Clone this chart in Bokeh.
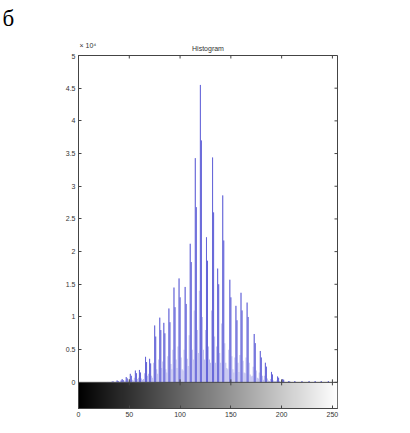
import numpy as np
from bokeh.plotting import figure
from bokeh.layouts import column
from bokeh.models import (FixedTicker, Label, Span, ColumnDataSource,
                          LinearColorMapper, Range1d)
from bokeh.palettes import Greys256
from bokeh.embed import file_html
from bokeh.resources import INLINE

# ---------------- data (counts in units of 10^4) ----------------
gray_levels = list(range(256))
counts_1e4 = [
    # 0-15
    0, 0, 0, 0, 0, 0, 0, 0, 0, 0, 0, 0, 0, 0, 0, 0,
    # 16-31
    0, 0, 0, 0, 0, 0, 0, 0, 0, 0, 0, 0.003, 0.004, 0.006, 0.004, 0.003,
    # 32-47
    0.004, 0.01, 0.015, 0.008, 0.006, 0.012, 0.03, 0.02, 0.01, 0.012, 0.03, 0.05, 0.035, 0.015, 0.03, 0.08,
    # 48-63
    0.06, 0.025, 0.05, 0.13, 0.1, 0.04, 0.03, 0.07, 0.18, 0.14, 0.05, 0.07, 0.19, 0.15, 0.06, 0.04,
    # 64-79
    0.05, 0.14, 0.39, 0.31, 0.1, 0.13, 0.36, 0.29, 0.1, 0.07, 0.3, 0.87, 0.7, 0.2, 0.13, 0.35,
    # 80-95
    0.99, 0.8, 0.22, 0.32, 0.91, 0.75, 0.2, 0.15, 0.4, 1.13, 0.92, 0.28, 0.2, 0.5, 1.45, 1.15,
    # 96-111
    0.35, 0.22, 0.55, 1.59, 1.3, 0.38, 0.2, 0.18, 0.5, 1.46, 1.2, 0.36, 0.25, 0.72, 2.12, 1.84,
    # 112-127
    0.5, 0.35, 1.1, 3.43, 2.68, 0.8, 0.45, 1.4, 4.55, 3.7, 1.0, 0.5, 0.35, 0.8, 2.22, 1.86,
    # 128-143
    0.55, 0.35, 0.3, 1.1, 3.44, 2.6, 0.7, 0.3, 0.55, 1.74, 1.5, 0.45, 0.3, 0.9, 2.86, 2.17,
    # 144-159
    0.6, 0.3, 0.22, 0.2, 0.5, 1.57, 1.3, 0.4, 0.2, 0.15, 0.38, 1.17, 0.95, 0.3, 0.16, 0.42,
    # 160-175
    1.37, 1.1, 0.33, 0.15, 0.14, 0.38, 1.22, 1.0, 0.3, 0.12, 0.09, 0.1, 0.24, 0.74, 0.6, 0.18,
    # 176-191
    0.07, 0.06, 0.15, 0.48, 0.38, 0.1, 0.04, 0.1, 0.3, 0.24, 0.06, 0.03, 0.02, 0.05, 0.16, 0.12,
    # 192-207
    0.03, 0.015, 0.015, 0.03, 0.09, 0.07, 0.02, 0.01, 0.02, 0.05, 0.04, 0.01, 0.005, 0.005, 0.008, 0.02,
    # 208-223
    0.012, 0, 0, 0, 0, 0.02, 0, 0, 0, 0, 0, 0, 0.02, 0, 0, 0,
    # 224-239
    0, 0, 0, 0.02, 0, 0, 0, 0, 0, 0.02, 0, 0, 0, 0, 0, 0.02,
    # 240-255
    0, 0, 0, 0, 0, 0, 0.02, 0, 0, 0, 0, 0, 0, 0, 0, 0,
]

x_ticks = [0, 50, 100, 150, 200, 250]
x_tick_labels = ["0", "50", "100", "150", "200", "250"]
y_ticks = [0, 0.5, 1, 1.5, 2, 2.5, 3, 3.5, 4, 4.5, 5]
y_tick_labels = ["0", "0.5", "1", "1.5", "2", "2.5", "3", "3.5", "4", "4.5", "5"]
title_text = "Histogram"
exponent_text = "\u00d7 10\u2074"
panel_letter = "б"

FONT = "Liberation Sans"
AX = "#444444"
TXT = "#333333"
W = 408

# ---------------- header strip (panel letter, exponent, title) ----------------
HH = 53
head = figure(width=W, height=HH, x_range=Range1d(0, W), y_range=Range1d(0, HH),
              output_backend="svg", toolbar_location=None,
              min_border=0, outline_line_color=None)
head.frame_align = False
head.axis.visible = False
head.grid.visible = False
head.add_layout(Label(x=2, y=HH - 18, text=panel_letter, text_font="Liberation Serif",
                      text_font_size="23px", text_color="black",
                      text_baseline="alphabetic", text_align="left"))
head.add_layout(Label(x=79, y=HH - 45, text=exponent_text, text_font=FONT,
                      text_font_size="7px", text_color=TXT,
                      text_baseline="middle", text_align="left"))
head.add_layout(Label(x=207.5, y=HH - 48, text=title_text, text_font=FONT,
                      text_font_size="7px", text_color=TXT,
                      text_baseline="middle", text_align="center"))

# ---------------- main histogram ----------------
p = figure(width=W, height=377, x_range=Range1d(0, 255), y_range=Range1d(-0.4, 5),
           output_backend="svg", toolbar_location=None,
           min_border_left=78, min_border_right=W - 78 - 259, min_border_top=2,
           min_border_bottom=22)
p.frame_align = False
p.xgrid.visible = False
p.ygrid.visible = False
p.outline_line_color = AX
p.background_fill_color = "white"
p.border_fill_color = "white"

xa = p.xaxis[0]
xa.ticker = FixedTicker(ticks=x_ticks)
xa.major_label_overrides = {t: l for t, l in zip(x_ticks, x_tick_labels)}
xa.major_tick_in = 3
xa.major_tick_out = 0
xa.minor_tick_line_color = None
xa.axis_line_color = AX
xa.major_tick_line_color = AX
xa.major_label_text_font = FONT
xa.major_label_text_font_size = "7px"
xa.major_label_text_color = TXT
xa.major_label_standoff = 3

ya = p.yaxis[0]
ya.ticker = FixedTicker(ticks=y_ticks)
ya.major_label_overrides = {t: l for t, l in zip(y_ticks, y_tick_labels)}
ya.major_tick_in = 3
ya.major_tick_out = 0
ya.minor_tick_line_color = None
ya.axis_line_color = AX
ya.major_tick_line_color = AX
ya.major_label_text_font = FONT
ya.major_label_text_font_size = "7px"
ya.major_label_text_color = TXT
ya.major_label_standoff = 3

# gray-level colour bar under the histogram
mapper = LinearColorMapper(palette=Greys256, low=0, high=255)
grad = np.array(gray_levels, dtype=float).reshape(1, 256)
p.image(image=[grad], x=p.x_range.start, y=p.y_range.start,
        dw=p.x_range.end - p.x_range.start, dh=0 - p.y_range.start, color_mapper=mapper)

# histogram
counts = np.array(counts_1e4)
src = ColumnDataSource(dict(x=gray_levels, top=counts_1e4))
p.vbar(x="x", top="top", bottom=0, width=1, source=src,
       fill_color="#bcbcee", line_color=None)

strong = []
for i, c in enumerate(counts):
    lo, hi = max(0, i - 2), min(256, i + 3)
    if c > 0 and c >= 0.6 * counts[lo:hi].max():
        strong.append(i)
sx = [gray_levels[i] for i in strong]
sy = [counts_1e4[i] for i in strong]
p.segment(x0=sx, y0=[0] * len(sx), x1=sx, y1=sy, line_color="#6464d8", line_width=1)

p.add_layout(Span(location=0, dimension="width", line_color=AX, line_width=1))

# inward tick marks on the right and top edges and along the histogram baseline
p.scatter(x=[p.x_range.end] * len(y_ticks), y=y_ticks, marker="dash", size=6,
          line_color=AX, line_width=1)
p.scatter(x=x_ticks, y=[p.y_range.end] * len(x_ticks), marker="dash", angle=np.pi / 2,
          size=6, line_color=AX, line_width=1)
p.scatter(x=x_ticks[1:], y=[0] * (len(x_ticks) - 1), marker="dash", angle=np.pi / 2,
          size=6, line_color=AX, line_width=1)

open("out.html", "w").write(file_html(column(head, p, spacing=0), INLINE))
